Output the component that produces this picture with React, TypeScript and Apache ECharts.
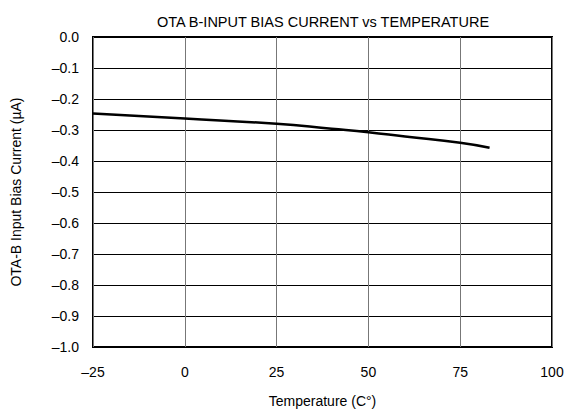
import React, { useEffect, useRef } from "react";
import * as echarts from "echarts";

const temperatures = [-25, 0, 25, 40, 50, 60, 75, 83];
const biasCurrent = [-0.247, -0.263, -0.28, -0.296, -0.307, -0.321, -0.341, -0.357];
const xTicks = [-25, 0, 25, 50, 75, 100];

const dash = "\u2013";

export default function App() {
  const ref = useRef<HTMLDivElement>(null);
  useEffect(() => {
    if (!ref.current) return;
    const chart = echarts.init(ref.current, undefined, { renderer: "svg" });
    const font = "Liberation Sans, Arial, sans-serif";
    chart.setOption({
      animation: false,
      backgroundColor: "#fff",
      title: {
        text: "OTA B-INPUT BIAS CURRENT vs TEMPERATURE",
        left: 318,
        top: 9,
        textAlign: "center",
        textStyle: { fontFamily: font, fontSize: 14.5, fontWeight: "normal", color: "#000" },
      },
      grid: {
        left: 93,
        right: 16,
        top: 37,
        bottom: 67,
        show: true,
        borderColor: "#000",
        borderWidth: 2,
        containLabel: false,
      },
      xAxis: {
        type: "value",
        min: xTicks[0],
        max: xTicks[xTicks.length - 1],
        interval: 25,
        name: "Temperature (C\u00b0)",
        nameLocation: "middle",
        nameGap: 47,
        nameTextStyle: { fontFamily: font, fontSize: 14, color: "#000" },
        axisLine: { show: false },
        axisTick: { show: false },
        axisLabel: {
          fontFamily: font,
          fontSize: 14,
          color: "#000",
          margin: 18,
          formatter: (v: number) => (v < 0 ? dash + Math.abs(v) : String(v)),
        },
        splitLine: { show: true, lineStyle: { color: "#777", width: 1 } },
      },
      yAxis: {
        type: "value",
        min: -1,
        max: 0,
        interval: 0.1,
        name: "OTA-B Input Bias Current (\u00b5A)",
        nameLocation: "middle",
        nameGap: 70,
        nameTextStyle: { fontFamily: font, fontSize: 14, color: "#000" },
        axisLine: { show: false },
        axisTick: { show: false },
        axisLabel: {
          fontFamily: font,
          fontSize: 14,
          color: "#000",
          margin: 14,
          formatter: (v: number) =>
            Math.abs(v) < 1e-9 ? "0.0" : dash + Math.abs(v).toFixed(1),
        },
        splitLine: { show: true, lineStyle: { color: "#000", width: 1 } },
      },
      series: [
        {
          type: "line",
          data: temperatures.map((t, i) => [t, biasCurrent[i]]),
          smooth: true,
          showSymbol: false,
          lineStyle: { color: "#000", width: 2.5 },
        },
      ],
    });
    return () => chart.dispose();
  }, []);
  return (
    <div
      ref={ref}
      style={{ position: "fixed", left: 0, top: 0, width: 568, height: 414 }}
    />
  );
}
